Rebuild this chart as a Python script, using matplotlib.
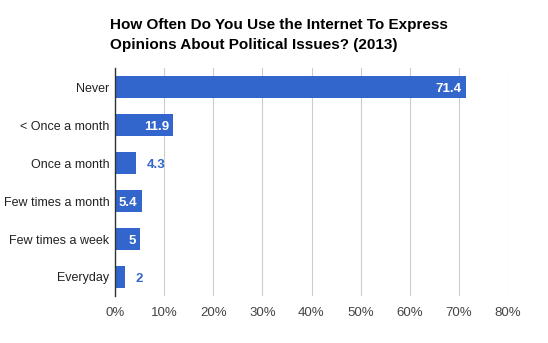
import matplotlib
matplotlib.use('Agg')
import matplotlib.pyplot as plt
from matplotlib.ticker import FuncFormatter
from matplotlib.transforms import offset_copy

plt.rcParams['font.family'] = ['Liberation Sans', 'DejaVu Sans']

categories = ["Never", "< Once a month", "Once a month", "Few times a month",
              "Few times a week", "Everyday"]
values = [71.4, 11.9, 4.3, 5.4, 5, 2]
labels = ["71.4", "11.9", "4.3", "5.4", "5", "2"]
xticks = [0, 10, 20, 30, 40, 50, 60, 70, 80]

BLUE = '#3366CC'

fig = plt.figure(figsize=(5.48, 3.43), dpi=100)
ax = fig.add_axes([115 / 548, 1 - 296 / 343, 393 / 548, 228 / 343])

ypos = list(range(len(categories)))
ax.barh(ypos, values, height=0.6, color=BLUE, zorder=3)
ax.set_ylim(len(categories) - 0.5, -0.5)
ax.set_xlim(0, 80)

ax.set_yticks(ypos)
ax.set_yticklabels(categories, fontsize=9, color='#222222')
ax.set_xticks(xticks)
ax.xaxis.set_major_formatter(FuncFormatter(lambda v, p: f"{int(v)}%"))
ax.tick_params(axis='x', labelsize=9.5, labelcolor='#444444', length=0, pad=8)
ax.tick_params(axis='y', length=0, pad=4)

ax.grid(axis='x', color='#cccccc', lw=0.8, zorder=0)
for s in ['top', 'right', 'bottom']:
    ax.spines[s].set_visible(False)
ax.spines['left'].set_color('#333333')
ax.spines['left'].set_linewidth(1)
ax.spines['left'].set_zorder(4)

# value labels: inside (white) when the bar is wide enough, else outside (blue)
for y, v, lab in zip(ypos, values, labels):
    if v >= 5:
        tr = offset_copy(ax.transData, fig=fig, x=-4, y=0, units='dots')
        ax.text(v, y, lab, transform=tr, ha='right', va='center_baseline',
                fontsize=9.5, fontweight='bold', color='white', zorder=5)
    else:
        tr = offset_copy(ax.transData, fig=fig, x=11, y=0, units='dots')
        ax.text(v, y, lab, transform=tr, ha='left', va='center_baseline',
                fontsize=9.5, fontweight='bold', color=BLUE, zorder=5)

fig.text(110 / 548, 1 - 35 / 343,
         "How Often Do You Use the Internet To Express\nOpinions About Political Issues? (2013)",
         ha='left', va='center', fontsize=11, fontweight='bold', color='black',
         linespacing=1.6)

fig.savefig('out.png', dpi=100, facecolor='white')
plt.close()
